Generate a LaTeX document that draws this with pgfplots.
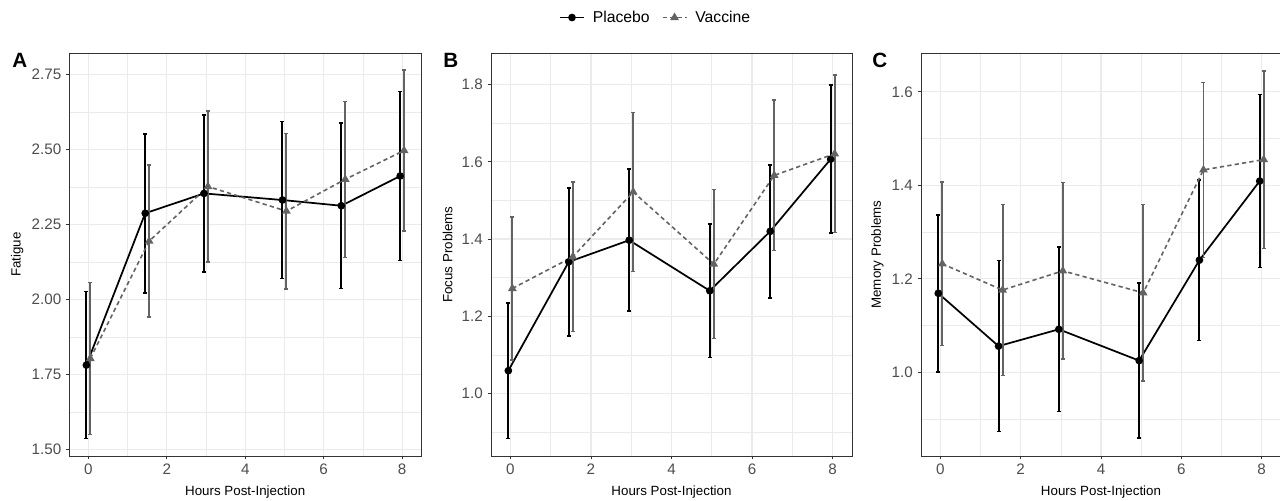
\documentclass[border=0pt]{standalone}
\usepackage{fontspec}
\setmainfont{Liberation Sans}
\usepackage{pgfplots}
\pgfplotsset{compat=1.18}
\definecolor{gridc}{HTML}{EBEBEB}
\definecolor{framec}{HTML}{333333}
\definecolor{tickc}{HTML}{4D4D4D}
\definecolor{vacc}{HTML}{636363}

\pgfplotsset{
  panel/.style={
    scale only axis, anchor=south west,
    xmin=-0.48, xmax=8.48,
    xtick={0,2,4,6,8}, minor xtick={1,3,5,7},
    grid=both,
    major grid style={color=gridc, line width=0.9pt},
    minor grid style={color=gridc, line width=0.45pt},
    axis line style={color=framec, line width=0.6pt},
    tick align=outside, xtick pos=lower, ytick pos=left,
    major tick length=2.6pt, minor tick length=0pt,
    major tick style={color=framec, line width=0.6pt},
    /pgf/number format/assume math mode=true,
    tick label style={font=\fontsize{11.4}{12}\selectfont, color=tickc},
    label style={font=\fontsize{11}{12}\selectfont, color=black},
    xlabel={Hours Post-Injection},
    every axis x label/.style={at={(axis description cs:0.5,-0.099)}, anchor=base},
  },
  placebo/.style={
    color=black, line width=1.3pt, mark=*, mark size=2.2pt, mark options={solid},
    error bars/.cd, y dir=both, y explicit,
    error bar style={solid, line width=1.5pt, color=black},
    error mark options={rotate=90, solid, line width=1.2pt, color=black, mark size=1.5pt},
  },
  vaccine/.style={
    color=vacc, line width=1.2pt, dash pattern=on 3.2pt off 2.4pt,
    mark=triangle*, mark size=2.6pt, mark options={solid, fill=vacc},
    error bars/.cd, y dir=both, y explicit,
    error bar style={solid, line width=1.4pt, color=vacc},
    error mark options={rotate=90, solid, line width=1.1pt, color=vacc, mark size=1.5pt},
  },
}

\begin{document}
\begin{tikzpicture}[x=0.75pt, y=0.75pt]
\path[use as bounding box] (0,0) rectangle (1280,500);

% panel A
\begin{axis}[panel, at={(52.125pt,33pt)}, width=263.6pt, height=302.25pt,
    ymin=1.478, ymax=2.821,
    ytick={1.5,1.75,2,2.25,2.5,2.75}, minor ytick={1.625,1.875,2.125,2.375,2.625},
    yticklabel style={/pgf/number format/.cd, fixed, fixed zerofill, precision=2},
    ylabel={Fatigue},
    every axis y label/.style={at={(axis description cs:-0.149,0.5)}, rotate=90, anchor=center}]
\addplot[placebo] coordinates {
  (-0.05,1.781) +- (0,0.245) (1.45,2.287) +- (0,0.265) (2.95,2.353) +- (0,0.262)
  (4.95,2.331) +- (0,0.262) (6.45,2.312) +- (0,0.276) (7.95,2.411) +- (0,0.282)};
\addplot[vaccine] coordinates {
  (0.05,1.803) +- (0,0.254) (1.55,2.194) +- (0,0.253) (3.05,2.376) +- (0,0.252)
  (5.05,2.294) +- (0,0.259) (6.55,2.400) +- (0,0.260) (8.05,2.496) +- (0,0.268)};
\end{axis}

% panel B (carries the legend)
\begin{axis}[panel, at={(368.25pt,33pt)}, width=270.75pt, height=302.25pt,
    ymin=0.838, ymax=1.882,
    ytick={1.0,1.2,1.4,1.6,1.8}, minor ytick={0.9,1.1,1.3,1.5,1.7},
    yticklabel style={/pgf/number format/.cd, fixed, fixed zerofill, precision=1},
    ylabel={Focus Problems},
    every axis y label/.style={at={(axis description cs:-0.1205,0.5)}, rotate=90, anchor=center},
    legend columns=2,
    legend image code/.code={
      \draw[mark repeat=2, mark phase=2, #1] plot coordinates {(0pt,0pt) (9pt,0pt) (18pt,0pt)};},
    legend style={at={(0.457,1.088)}, anchor=center, draw=none, fill=none,
      font=\fontsize{11.8}{12}\selectfont,
      /tikz/every odd column/.append style={column sep=4pt},
      /tikz/every even column/.append style={column sep=7pt}}]
\addplot[placebo] coordinates {
  (-0.05,1.059) +- (0,0.176) (1.45,1.341) +- (0,0.192) (2.95,1.397) +- (0,0.184)
  (4.95,1.266) +- (0,0.173) (6.45,1.420) +- (0,0.172) (7.95,1.607) +- (0,0.192)};
\addplot[vaccine] coordinates {
  (0.05,1.272) +- (0,0.185) (1.55,1.354) +- (0,0.194) (3.05,1.522) +- (0,0.206)
  (5.05,1.335) +- (0,0.193) (6.55,1.565) +- (0,0.195) (8.05,1.621) +- (0,0.204)};
\legend{Placebo, Vaccine}
\end{axis}

% panel C
\begin{axis}[panel, at={(690.75pt,33pt)}, width=270pt, height=302.25pt,
    ymin=0.821, ymax=1.683,
    ytick={1.0,1.2,1.4,1.6}, minor ytick={0.9,1.1,1.3,1.5},
    yticklabel style={/pgf/number format/.cd, fixed, fixed zerofill, precision=1},
    ylabel={Memory Problems},
    every axis y label/.style={at={(axis description cs:-0.121,0.5)}, rotate=90, anchor=center}]
\addplot[placebo] coordinates {
  (-0.05,1.169) +- (0,0.168) (1.45,1.056) +- (0,0.183) (2.95,1.092) +- (0,0.176)
  (4.95,1.025) +- (0,0.166) (6.45,1.240) +- (0,0.172) (7.95,1.409) +- (0,0.185)};
\addplot[vaccine] coordinates {
  (0.05,1.232) +- (0,0.175) (1.55,1.176) +- (0,0.183) (3.05,1.217) +- (0,0.189)
  (5.05,1.170) +- (0,0.189) (6.55,1.433) +- (0,0.187) (8.05,1.455) +- (0,0.190)};
\end{axis}

% panel tags
\node[anchor=base west, inner sep=0pt, font=\fontsize{15.5}{16}\selectfont\bfseries] at (12,432) {A};
\node[anchor=base west, inner sep=0pt, font=\fontsize{15.5}{16}\selectfont\bfseries] at (443,432) {B};
\node[anchor=base west, inner sep=0pt, font=\fontsize{15.5}{16}\selectfont\bfseries] at (872,432) {C};
\end{tikzpicture}
\end{document}
